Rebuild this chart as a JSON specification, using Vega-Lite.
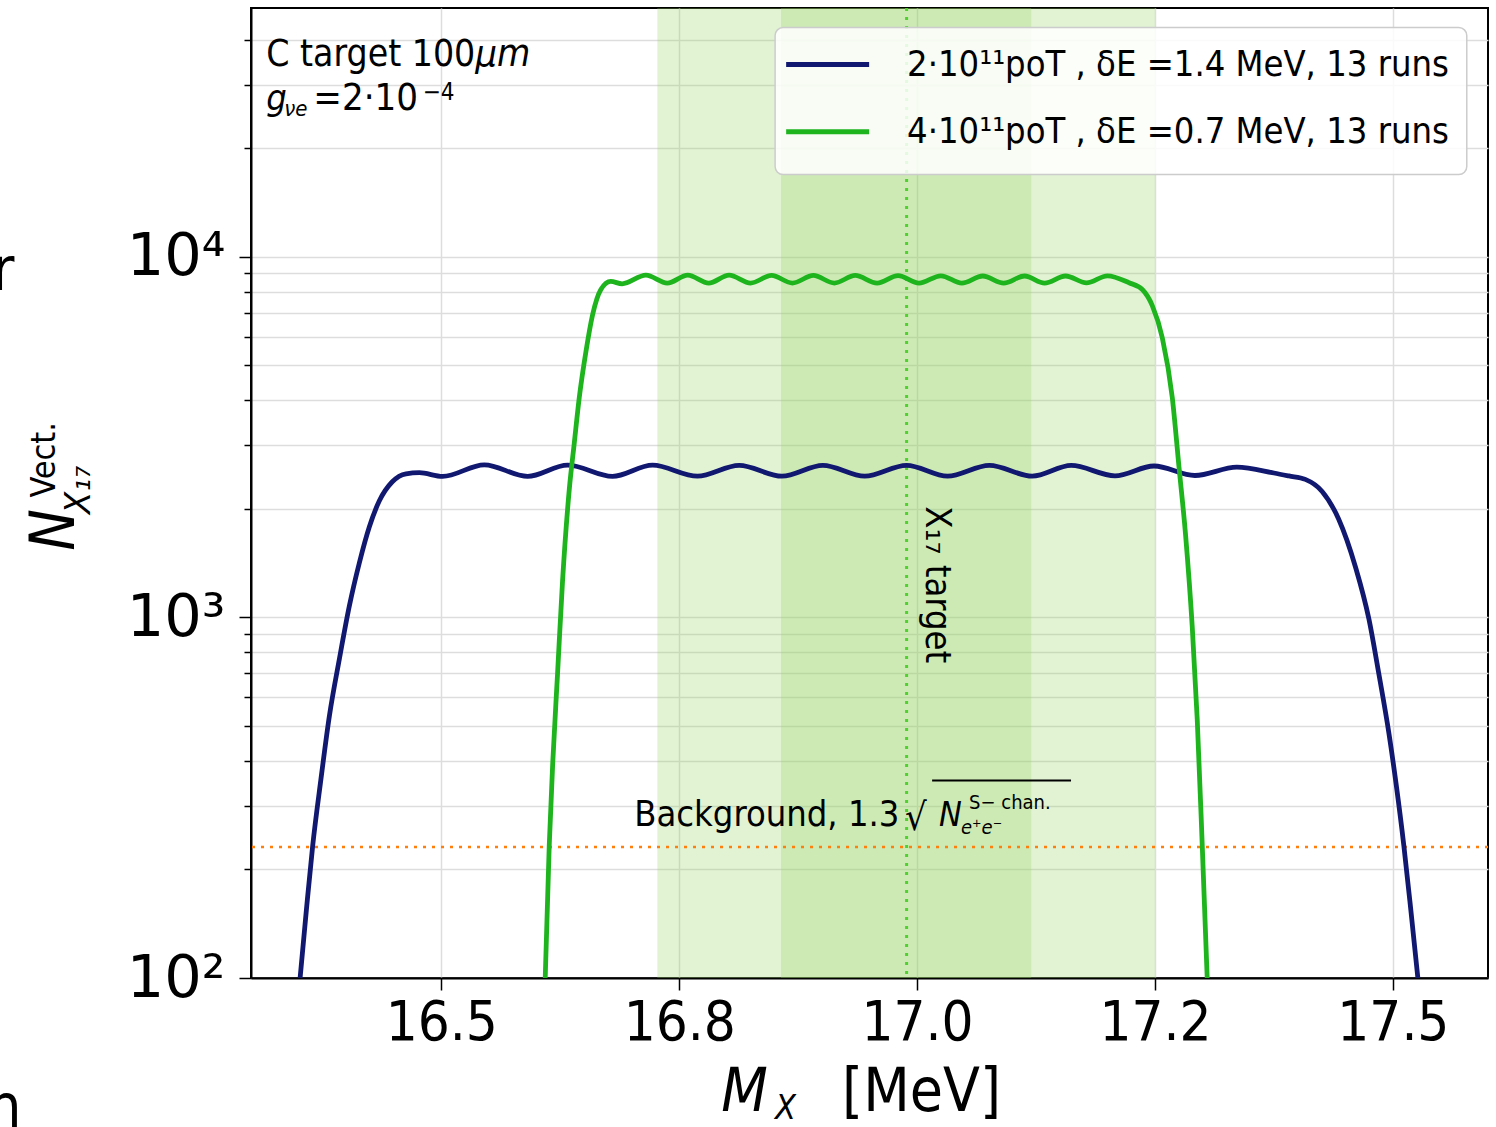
{
  "$schema": "https://vega.github.io/schema/vega-lite/v6.json",
  "autosize": {"type": "none"},
  "padding": {"left": 251, "top": 8, "right": 8, "bottom": 149},
  "width": 1237,
  "height": 970,
  "background": "white",
  "config": {
    "font": "DejaVu Sans Condensed, DejaVu Sans",
    "view": {"stroke": "black", "strokeWidth": 2},
    "text": {"color": "black", "font": "DejaVu Sans Condensed, DejaVu Sans", "baseline": "alphabetic"}
  },
  "data": {"values": [{}]},
  "datasets": {
    "curves": [
      {"x": 16.3516, "y": 100, "series": "2·10¹¹poT , δE =1.4 MeV, 13 runs"},
      {"x": 16.3582, "y": 154.4, "series": "2·10¹¹poT , δE =1.4 MeV, 13 runs"},
      {"x": 16.3648, "y": 232.4, "series": "2·10¹¹poT , δE =1.4 MeV, 13 runs"},
      {"x": 16.3734, "y": 354.3, "series": "2·10¹¹poT , δE =1.4 MeV, 13 runs"},
      {"x": 16.3824, "y": 533.3, "series": "2·10¹¹poT , δE =1.4 MeV, 13 runs"},
      {"x": 16.3929, "y": 767.6, "series": "2·10¹¹poT , δE =1.4 MeV, 13 runs"},
      {"x": 16.4034, "y": 1077, "series": "2·10¹¹poT , δE =1.4 MeV, 13 runs"},
      {"x": 16.4139, "y": 1418, "series": "2·10¹¹poT , δE =1.4 MeV, 13 runs"},
      {"x": 16.4244, "y": 1784, "series": "2·10¹¹poT , δE =1.4 MeV, 13 runs"},
      {"x": 16.4349, "y": 2106, "series": "2·10¹¹poT , δE =1.4 MeV, 13 runs"},
      {"x": 16.4485, "y": 2378, "series": "2·10¹¹poT , δE =1.4 MeV, 13 runs"},
      {"x": 16.4629, "y": 2502, "series": "2·10¹¹poT , δE =1.4 MeV, 13 runs"},
      {"x": 16.4769, "y": 2520, "series": "2·10¹¹poT , δE =1.4 MeV, 13 runs"},
      {"x": 16.5014, "y": 2461, "series": "2·10¹¹poT , δE =1.4 MeV, 13 runs"},
      {"x": 16.5452, "y": 2650, "series": "2·10¹¹poT , δE =1.4 MeV, 13 runs"},
      {"x": 16.5907, "y": 2461, "series": "2·10¹¹poT , δE =1.4 MeV, 13 runs"},
      {"x": 16.6327, "y": 2645, "series": "2·10¹¹poT , δE =1.4 MeV, 13 runs"},
      {"x": 16.6799, "y": 2461, "series": "2·10¹¹poT , δE =1.4 MeV, 13 runs"},
      {"x": 16.7220, "y": 2645, "series": "2·10¹¹poT , δE =1.4 MeV, 13 runs"},
      {"x": 16.7692, "y": 2465, "series": "2·10¹¹poT , δE =1.4 MeV, 13 runs"},
      {"x": 16.8130, "y": 2640, "series": "2·10¹¹poT , δE =1.4 MeV, 13 runs"},
      {"x": 16.8580, "y": 2465, "series": "2·10¹¹poT , δE =1.4 MeV, 13 runs"},
      {"x": 16.9010, "y": 2640, "series": "2·10¹¹poT , δE =1.4 MeV, 13 runs"},
      {"x": 16.9450, "y": 2465, "series": "2·10¹¹poT , δE =1.4 MeV, 13 runs"},
      {"x": 16.9890, "y": 2640, "series": "2·10¹¹poT , δE =1.4 MeV, 13 runs"},
      {"x": 17.0320, "y": 2465, "series": "2·10¹¹poT , δE =1.4 MeV, 13 runs"},
      {"x": 17.0760, "y": 2640, "series": "2·10¹¹poT , δE =1.4 MeV, 13 runs"},
      {"x": 17.1210, "y": 2465, "series": "2·10¹¹poT , δE =1.4 MeV, 13 runs"},
      {"x": 17.1620, "y": 2640, "series": "2·10¹¹poT , δE =1.4 MeV, 13 runs"},
      {"x": 17.2080, "y": 2470, "series": "2·10¹¹poT , δE =1.4 MeV, 13 runs"},
      {"x": 17.2490, "y": 2630, "series": "2·10¹¹poT , δE =1.4 MeV, 13 runs"},
      {"x": 17.2920, "y": 2475, "series": "2·10¹¹poT , δE =1.4 MeV, 13 runs"},
      {"x": 17.3360, "y": 2610, "series": "2·10¹¹poT , δE =1.4 MeV, 13 runs"},
      {"x": 17.3750, "y": 2515, "series": "2·10¹¹poT , δE =1.4 MeV, 13 runs"},
      {"x": 17.3908, "y": 2468, "series": "2·10¹¹poT , δE =1.4 MeV, 13 runs"},
      {"x": 17.4080, "y": 2415, "series": "2·10¹¹poT , δE =1.4 MeV, 13 runs"},
      {"x": 17.4257, "y": 2236, "series": "2·10¹¹poT , δE =1.4 MeV, 13 runs"},
      {"x": 17.4430, "y": 1875, "series": "2·10¹¹poT , δE =1.4 MeV, 13 runs"},
      {"x": 17.4608, "y": 1378, "series": "2·10¹¹poT , δE =1.4 MeV, 13 runs"},
      {"x": 17.4748, "y": 991, "series": "2·10¹¹poT , δE =1.4 MeV, 13 runs"},
      {"x": 17.4853, "y": 697, "series": "2·10¹¹poT , δE =1.4 MeV, 13 runs"},
      {"x": 17.4958, "y": 478.4, "series": "2·10¹¹poT , δE =1.4 MeV, 13 runs"},
      {"x": 17.5037, "y": 341, "series": "2·10¹¹poT , δE =1.4 MeV, 13 runs"},
      {"x": 17.5116, "y": 232.4, "series": "2·10¹¹poT , δE =1.4 MeV, 13 runs"},
      {"x": 17.5189, "y": 154.4, "series": "2·10¹¹poT , δE =1.4 MeV, 13 runs"},
      {"x": 17.5263, "y": 100, "series": "2·10¹¹poT , δE =1.4 MeV, 13 runs"},
      {"x": 16.6092, "y": 100, "series": "4·10¹¹poT , δE =0.7 MeV, 13 runs"},
      {"x": 16.6134, "y": 232, "series": "4·10¹¹poT , δE =0.7 MeV, 13 runs"},
      {"x": 16.6170, "y": 390, "series": "4·10¹¹poT , δE =0.7 MeV, 13 runs"},
      {"x": 16.6222, "y": 701, "series": "4·10¹¹poT , δE =0.7 MeV, 13 runs"},
      {"x": 16.6274, "y": 1260, "series": "4·10¹¹poT , δE =0.7 MeV, 13 runs"},
      {"x": 16.6345, "y": 2266, "series": "4·10¹¹poT , δE =0.7 MeV, 13 runs"},
      {"x": 16.6397, "y": 3038, "series": "4·10¹¹poT , δE =0.7 MeV, 13 runs"},
      {"x": 16.6450, "y": 4074, "series": "4·10¹¹poT , δE =0.7 MeV, 13 runs"},
      {"x": 16.6520, "y": 5463, "series": "4·10¹¹poT , δE =0.7 MeV, 13 runs"},
      {"x": 16.6590, "y": 6908, "series": "4·10¹¹poT , δE =0.7 MeV, 13 runs"},
      {"x": 16.6677, "y": 8120, "series": "4·10¹¹poT , δE =0.7 MeV, 13 runs"},
      {"x": 16.6780, "y": 8550, "series": "4·10¹¹poT , δE =0.7 MeV, 13 runs"},
      {"x": 16.6900, "y": 8420, "series": "4·10¹¹poT , δE =0.7 MeV, 13 runs"},
      {"x": 16.7150, "y": 8900, "series": "4·10¹¹poT , δE =0.7 MeV, 13 runs"},
      {"x": 16.7375, "y": 8460, "series": "4·10¹¹poT , δE =0.7 MeV, 13 runs"},
      {"x": 16.7590, "y": 8900, "series": "4·10¹¹poT , δE =0.7 MeV, 13 runs"},
      {"x": 16.7810, "y": 8460, "series": "4·10¹¹poT , δE =0.7 MeV, 13 runs"},
      {"x": 16.8025, "y": 8900, "series": "4·10¹¹poT , δE =0.7 MeV, 13 runs"},
      {"x": 16.8250, "y": 8460, "series": "4·10¹¹poT , δE =0.7 MeV, 13 runs"},
      {"x": 16.8470, "y": 8880, "series": "4·10¹¹poT , δE =0.7 MeV, 13 runs"},
      {"x": 16.8690, "y": 8460, "series": "4·10¹¹poT , δE =0.7 MeV, 13 runs"},
      {"x": 16.8910, "y": 8880, "series": "4·10¹¹poT , δE =0.7 MeV, 13 runs"},
      {"x": 16.9130, "y": 8460, "series": "4·10¹¹poT , δE =0.7 MeV, 13 runs"},
      {"x": 16.9350, "y": 8880, "series": "4·10¹¹poT , δE =0.7 MeV, 13 runs"},
      {"x": 16.9580, "y": 8460, "series": "4·10¹¹poT , δE =0.7 MeV, 13 runs"},
      {"x": 16.9800, "y": 8870, "series": "4·10¹¹poT , δE =0.7 MeV, 13 runs"},
      {"x": 17.0020, "y": 8460, "series": "4·10¹¹poT , δE =0.7 MeV, 13 runs"},
      {"x": 17.0250, "y": 8860, "series": "4·10¹¹poT , δE =0.7 MeV, 13 runs"},
      {"x": 17.0470, "y": 8460, "series": "4·10¹¹poT , δE =0.7 MeV, 13 runs"},
      {"x": 17.0690, "y": 8850, "series": "4·10¹¹poT , δE =0.7 MeV, 13 runs"},
      {"x": 17.0910, "y": 8460, "series": "4·10¹¹poT , δE =0.7 MeV, 13 runs"},
      {"x": 17.1130, "y": 8850, "series": "4·10¹¹poT , δE =0.7 MeV, 13 runs"},
      {"x": 17.1340, "y": 8460, "series": "4·10¹¹poT , δE =0.7 MeV, 13 runs"},
      {"x": 17.1560, "y": 8850, "series": "4·10¹¹poT , δE =0.7 MeV, 13 runs"},
      {"x": 17.1780, "y": 8470, "series": "4·10¹¹poT , δE =0.7 MeV, 13 runs"},
      {"x": 17.2000, "y": 8860, "series": "4·10¹¹poT , δE =0.7 MeV, 13 runs"},
      {"x": 17.2227, "y": 8476, "series": "4·10¹¹poT , δE =0.7 MeV, 13 runs"},
      {"x": 17.2367, "y": 8120, "series": "4·10¹¹poT , δE =0.7 MeV, 13 runs"},
      {"x": 17.2472, "y": 7325, "series": "4·10¹¹poT , δE =0.7 MeV, 13 runs"},
      {"x": 17.2577, "y": 5968, "series": "4·10¹¹poT , δE =0.7 MeV, 13 runs"},
      {"x": 17.2682, "y": 4074, "series": "4·10¹¹poT , δE =0.7 MeV, 13 runs"},
      {"x": 17.2752, "y": 2624, "series": "4·10¹¹poT , δE =0.7 MeV, 13 runs"},
      {"x": 17.2822, "y": 1690, "series": "4·10¹¹poT , δE =0.7 MeV, 13 runs"},
      {"x": 17.2892, "y": 940, "series": "4·10¹¹poT , δE =0.7 MeV, 13 runs"},
      {"x": 17.2944, "y": 523, "series": "4·10¹¹poT , δE =0.7 MeV, 13 runs"},
      {"x": 17.2997, "y": 233, "series": "4·10¹¹poT , δE =0.7 MeV, 13 runs"},
      {"x": 17.3049, "y": 100, "series": "4·10¹¹poT , δE =0.7 MeV, 13 runs"}
    ],
    "bands": [
      {"lo": 16.727, "hi": 17.25, "band": "wide"},
      {"lo": 16.857, "hi": 17.12, "band": "narrow"}
    ]
  },
  "layer": [
    {
      "data": {"name": "bands"},
      "mark": {"type": "rect", "color": "#97d465", "opacity": 0.28},
      "encoding": {
        "x": {"field": "lo", "type": "quantitative", "scale": {"domain": [16.3, 17.6], "nice": false, "zero": false},
          "axis": {
            "values": [16.5, 16.75, 17, 17.25, 17.5],
            "labelExpr": "datum.value == 16.75 ? '16.8' : datum.value == 17.25 ? '17.2' : format(datum.value, '.1f')",
            "title": null,
            "grid": true, "gridColor": "#dddddd", "gridWidth": 1.5,
            "tickSize": 12, "tickWidth": 1.5, "tickColor": "black",
            "domainColor": "black", "domainWidth": 2,
            "labelFontSize": 56, "labelColor": "black", "labelPadding": 5,
            "labelFont": "DejaVu Sans Condensed, DejaVu Sans",
            "labelOverlap": false, "labelFlush": false
          }},
        "x2": {"field": "hi"}
      }
    },
    {
      "mark": {"type": "rule", "color": "#4fd12f", "strokeWidth": 3, "strokeDash": [3, 6]},
      "encoding": {"x": {"datum": 16.989}}
    },
    {
      "mark": {"type": "rule", "color": "#ff7f0e", "strokeWidth": 2.5, "strokeDash": [3, 6]},
      "encoding": {"y": {"datum": 231}}
    },
    {
      "data": {"name": "curves"},
      "mark": {"type": "line", "interpolate": "monotone", "strokeWidth": 4.8},
      "encoding": {
        "x": {"field": "x", "type": "quantitative"},
        "y": {"field": "y", "type": "quantitative",
          "scale": {"type": "log", "domain": [100, 49000], "nice": false},
          "axis": {
            "values": [100, 200, 300, 400, 500, 600, 700, 800, 900, 1000, 2000, 3000, 4000, 5000, 6000, 7000, 8000, 9000, 10000, 20000, 30000, 40000],
            "labelExpr": "datum.value == 100 ? '10²' : datum.value == 1000 ? '10³' : datum.value == 10000 ? '10⁴' : ''",
            "title": null,
            "grid": true, "gridColor": "#dddddd", "gridWidth": 1.5,
            "tickColor": "black", "tickWidth": 1.5,
            "tickSize": {"condition": {"test": "datum.value == 100 || datum.value == 1000 || datum.value == 10000", "value": 12}, "value": 7},
            "domainColor": "black", "domainWidth": 2,
            "labelFontSize": 59, "labelColor": "black", "labelPadding": 14,
            "labelFont": "DejaVu Sans",
            "labelOverlap": false, "labelFlush": false, "labelBound": false
          }},
        "color": {"field": "series", "type": "nominal",
          "scale": {"domain": ["2·10¹¹poT , δE =1.4 MeV, 13 runs", "4·10¹¹poT , δE =0.7 MeV, 13 runs"], "range": ["#101870", "#1eb41e"]},
          "legend": null}
      }
    },
    {"mark": {"type": "rect", "fill": "white", "fillOpacity": 0.85, "stroke": "#cccccc", "strokeWidth": 1.5, "cornerRadius": 8},
     "encoding": {"x": {"datum": 16.8508}, "x2": {"datum": 17.5777}, "y": {"datum": 43250}, "y2": {"datum": 16910}}},
    {"mark": {"type": "rule", "color": "#101870", "strokeWidth": 5}, "encoding": {"x": {"datum": 16.8624}, "x2": {"datum": 16.9496}, "y": {"datum": 34150}}},
    {"mark": {"type": "rule", "color": "#1eb41e", "strokeWidth": 5}, "encoding": {"x": {"datum": 16.8624}, "x2": {"datum": 16.9496}, "y": {"datum": 22250}}},
    {"mark": {"type": "text", "align": "left", "baseline": "middle", "fontSize": 36}, "encoding": {"x": {"datum": 16.9895}, "y": {"datum": 34150}, "text": {"value": "2·10¹¹poT , δE =1.4 MeV, 13 runs"}}},
    {"mark": {"type": "text", "align": "left", "baseline": "middle", "fontSize": 36}, "encoding": {"x": {"datum": 16.9895}, "y": {"datum": 22250}, "text": {"value": "4·10¹¹poT , δE =0.7 MeV, 13 runs"}}},
    {"mark": {"type": "text", "align": "left", "fontSize": 37}, "encoding": {"x": {"datum": 16.316}, "y": {"datum": 33930}, "text": {"value": "C target 100"}}},
    {"mark": {"type": "text", "align": "left", "fontSize": 38, "fontStyle": "italic"}, "encoding": {"x": {"datum": 16.5358}, "y": {"datum": 33930}, "text": {"value": "μm"}}},
    {"mark": {"type": "text", "align": "left", "fontSize": 36, "fontStyle": "italic"}, "encoding": {"x": {"datum": 16.316}, "y": {"datum": 25600}, "text": {"value": "g"}}},
    {"mark": {"type": "text", "align": "left", "fontSize": 22, "fontStyle": "italic"}, "encoding": {"x": {"datum": 16.335}, "y": {"datum": 24650}, "text": {"value": "νe"}}},
    {"mark": {"type": "text", "align": "left", "fontSize": 38}, "encoding": {"x": {"datum": 16.3655}, "y": {"datum": 25600}, "text": {"value": "=2·10"}}},
    {"mark": {"type": "text", "align": "left", "fontSize": 24}, "encoding": {"x": {"datum": 16.4805}, "y": {"datum": 27290}, "text": {"value": "−4"}}},
    {"mark": {"type": "text", "align": "center", "baseline": "middle", "angle": 90, "fontSize": 36}, "encoding": {"x": {"datum": 17.021}, "y": {"datum": 1232}, "text": {"value": "X₁₇ target"}}},
    {"mark": {"type": "text", "align": "left", "fontSize": 36}, "encoding": {"x": {"datum": 16.7027}, "y": {"datum": 264}, "text": {"value": "Background, 1.3"}}},
    {"mark": {"type": "text", "align": "left", "fontSize": 38}, "encoding": {"x": {"datum": 16.9874}, "y": {"datum": 258}, "text": {"value": "√"}}},
    {"mark": {"type": "text", "align": "left", "fontSize": 34, "fontStyle": "italic"}, "encoding": {"x": {"datum": 17.0231}, "y": {"datum": 264}, "text": {"value": "N"}}},
    {"mark": {"type": "text", "align": "left", "fontSize": 20, "fontStyle": "italic"}, "encoding": {"x": {"datum": 17.0462}, "y": {"datum": 251}, "text": {"value": "e⁺e⁻"}}},
    {"mark": {"type": "text", "align": "left", "fontSize": 20}, "encoding": {"x": {"datum": 17.0546}, "y": {"datum": 294}, "text": {"value": "S− chan."}}},
    {"mark": {"type": "rule", "color": "black", "strokeWidth": 2}, "encoding": {"x": {"datum": 17.0158}, "x2": {"datum": 17.1618}, "y": {"datum": 352.7}}},
    {"mark": {"type": "text", "align": "left", "fontSize": 60, "fontStyle": "italic"}, "encoding": {"x": {"datum": 16.7941}, "y": {"datum": 42.8}, "text": {"value": "M"}}},
    {"mark": {"type": "text", "align": "left", "fontSize": 34, "fontStyle": "italic"}, "encoding": {"x": {"datum": 16.8508}, "y": {"datum": 40.6}, "text": {"value": "X"}}},
    {"mark": {"type": "text", "align": "left", "fontSize": 60}, "encoding": {"x": {"datum": 16.9212}, "y": {"datum": 42.8}, "text": {"value": "[MeV]"}}},
    {"mark": {"type": "text", "align": "center", "angle": 270, "fontSize": 62, "fontStyle": "italic"}, "encoding": {"x": {"datum": 16.1145}, "y": {"datum": 1750}, "text": {"value": "N"}}},
    {"mark": {"type": "text", "align": "center", "angle": 270, "fontSize": 34}, "encoding": {"x": {"datum": 16.0935}, "y": {"datum": 2737}, "text": {"value": "Vect."}}},
    {"mark": {"type": "text", "align": "center", "angle": 270, "fontSize": 36, "fontStyle": "italic"}, "encoding": {"x": {"datum": 16.1303}, "y": {"datum": 2259}, "text": {"value": "X₁₇"}}},
    {"mark": {"type": "text", "align": "right", "fontSize": 60}, "encoding": {"x": {"datum": 16.0515}, "y": {"datum": 8110}, "text": {"value": "r"}}},
    {"mark": {"type": "text", "align": "right", "fontSize": 60}, "encoding": {"x": {"datum": 16.0588}, "y": {"datum": 38.6}, "text": {"value": "n"}}}
  ]
}
